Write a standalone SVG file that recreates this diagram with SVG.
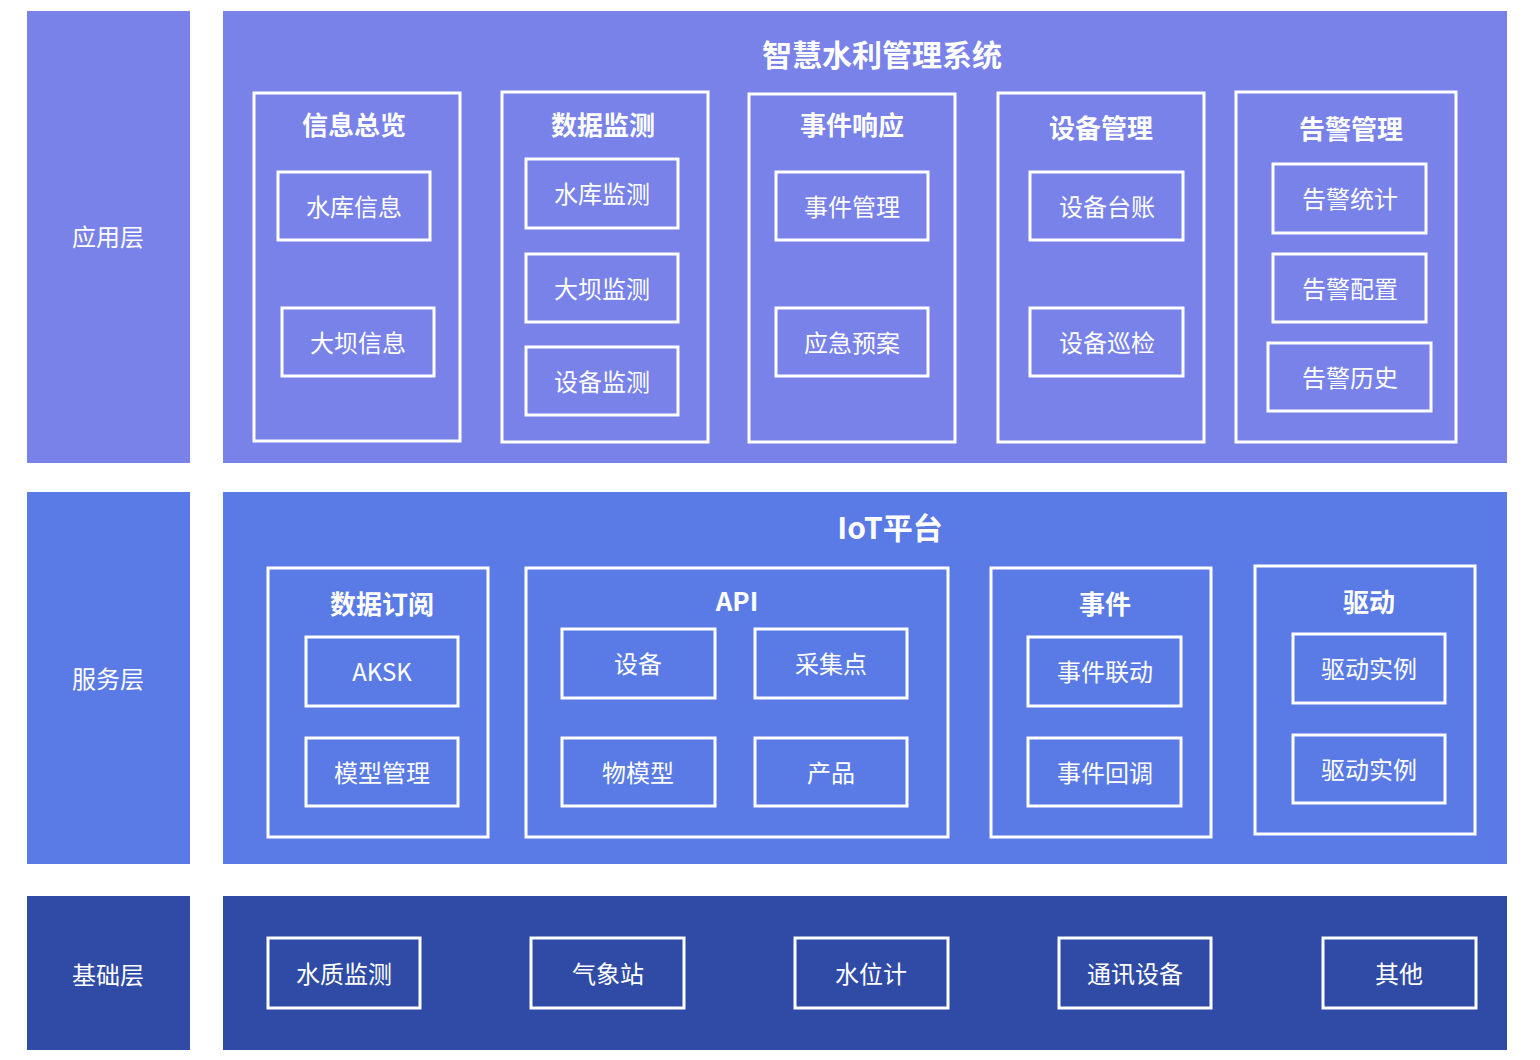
<svg xmlns="http://www.w3.org/2000/svg" width="1540" height="1060" viewBox="0 0 1540 1060">
<style>
text{font-family:"Noto Sans CJK SC","Liberation Sans",sans-serif;fill:#fff;text-anchor:middle;dominant-baseline:central}
.lbl{font-size:24px}
.title{font-size:30px;font-weight:bold}
.gt{font-size:26px;font-weight:bold}
.it{font-size:24px}
.box{fill:none;stroke:#fff;stroke-width:3}
.top{fill:#7882E9}
.mid{fill:#5A7BE5}
.bot{fill:#2F4BA5}
</style>
<rect width="1540" height="1060" fill="#fff"/>
<g id="layer-app">
<rect class="top" x="27" y="11" width="163" height="452"/>
<text class="lbl" x="108" y="235">应用层</text>
<rect class="top" x="223" y="11" width="1284" height="452"/>
<text class="title" x="882" y="53">智慧水利管理系统</text>
</g>
<g id="g-xxzl">
<rect class="box" x="254" y="93" width="206" height="348"/>
<text class="gt" x="354" y="123">信息总览</text>
<rect class="box" x="278" y="172" width="152" height="68"/><text class="it" x="354" y="205">水库信息</text>
<rect class="box" x="282" y="308" width="152" height="68"/><text class="it" x="358" y="341">大坝信息</text>
</g>
<g id="g-sjjc">
<rect class="box" x="502" y="92" width="206" height="350"/>
<text class="gt" x="603" y="123">数据监测</text>
<rect class="box" x="526" y="159" width="152" height="69"/><text class="it" x="602" y="192">水库监测</text>
<rect class="box" x="526" y="254" width="152" height="68"/><text class="it" x="602" y="287">大坝监测</text>
<rect class="box" x="526" y="347" width="152" height="68"/><text class="it" x="602" y="380">设备监测</text>
</g>
<g id="g-sjxy">
<rect class="box" x="749" y="94" width="206" height="348"/>
<text class="gt" x="852" y="123">事件响应</text>
<rect class="box" x="776" y="172" width="152" height="68"/><text class="it" x="852" y="205">事件管理</text>
<rect class="box" x="776" y="308" width="152" height="68"/><text class="it" x="852" y="341">应急预案</text>
</g>
<g id="g-sbgl">
<rect class="box" x="998" y="93" width="206" height="349"/>
<text class="gt" x="1101" y="126">设备管理</text>
<rect class="box" x="1030" y="172" width="153" height="68"/><text class="it" x="1107" y="205">设备台账</text>
<rect class="box" x="1030" y="308" width="153" height="68"/><text class="it" x="1107" y="341">设备巡检</text>
</g>
<g id="g-gjgl">
<rect class="box" x="1236" y="92" width="220" height="350"/>
<text class="gt" x="1351" y="127">告警管理</text>
<rect class="box" x="1273" y="164" width="153" height="69"/><text class="it" x="1350" y="197">告警统计</text>
<rect class="box" x="1273" y="254" width="153" height="68"/><text class="it" x="1350" y="287">告警配置</text>
<rect class="box" x="1268" y="343" width="163" height="68"/><text class="it" x="1350" y="376">告警历史</text>
</g>
<g id="layer-svc">
<rect class="mid" x="27" y="492" width="163" height="372"/>
<text class="lbl" x="108" y="677">服务层</text>
<rect class="mid" x="223" y="492" width="1284" height="372"/>
<text class="title" x="890" y="526">IoT平台</text>
</g>
<g id="g-sjdy">
<rect class="box" x="268" y="568" width="220" height="269"/>
<text class="gt" x="382" y="602">数据订阅</text>
<rect class="box" x="306" y="637" width="152" height="69"/><text class="it" x="382" y="670">AKSK</text>
<rect class="box" x="306" y="738" width="152" height="68"/><text class="it" x="382" y="771">模型管理</text>
</g>
<g id="g-api">
<rect class="box" x="526" y="568" width="422" height="269"/>
<text class="gt" x="737" y="599">API</text>
<rect class="box" x="562" y="629" width="153" height="69"/><text class="it" x="638" y="662">设备</text>
<rect class="box" x="755" y="629" width="152" height="69"/><text class="it" x="831" y="662">采集点</text>
<rect class="box" x="562" y="738" width="153" height="68"/><text class="it" x="638" y="771">物模型</text>
<rect class="box" x="755" y="738" width="152" height="68"/><text class="it" x="831" y="771">产品</text>
</g>
<g id="g-event">
<rect class="box" x="991" y="568" width="220" height="269"/>
<text class="gt" x="1105" y="602">事件</text>
<rect class="box" x="1028" y="637" width="153" height="69"/><text class="it" x="1105" y="670">事件联动</text>
<rect class="box" x="1028" y="738" width="153" height="68"/><text class="it" x="1105" y="771">事件回调</text>
</g>
<g id="g-driver">
<rect class="box" x="1255" y="566" width="220" height="268"/>
<text class="gt" x="1369" y="600">驱动</text>
<rect class="box" x="1293" y="634" width="152" height="69"/><text class="it" x="1369" y="667">驱动实例</text>
<rect class="box" x="1293" y="735" width="152" height="68"/><text class="it" x="1369" y="768">驱动实例</text>
</g>
<g id="layer-base">
<rect class="bot" x="27" y="896" width="163" height="154"/>
<text class="lbl" x="108" y="973">基础层</text>
<rect class="bot" x="223" y="896" width="1284" height="154"/>
</g>
<g id="n-szjc"><rect class="box" x="268" y="938" width="152" height="70"/><text class="it" x="344" y="972">水质监测</text></g>
<g id="n-qxz"><rect class="box" x="531" y="938" width="153" height="70"/><text class="it" x="608" y="972">气象站</text></g>
<g id="n-swj"><rect class="box" x="795" y="938" width="153" height="70"/><text class="it" x="871" y="972">水位计</text></g>
<g id="n-txsb"><rect class="box" x="1059" y="938" width="152" height="70"/><text class="it" x="1135" y="972">通讯设备</text></g>
<g id="n-qt"><rect class="box" x="1323" y="938" width="153" height="70"/><text class="it" x="1399" y="972">其他</text></g>
<g id="connectors"></g>
</svg>
